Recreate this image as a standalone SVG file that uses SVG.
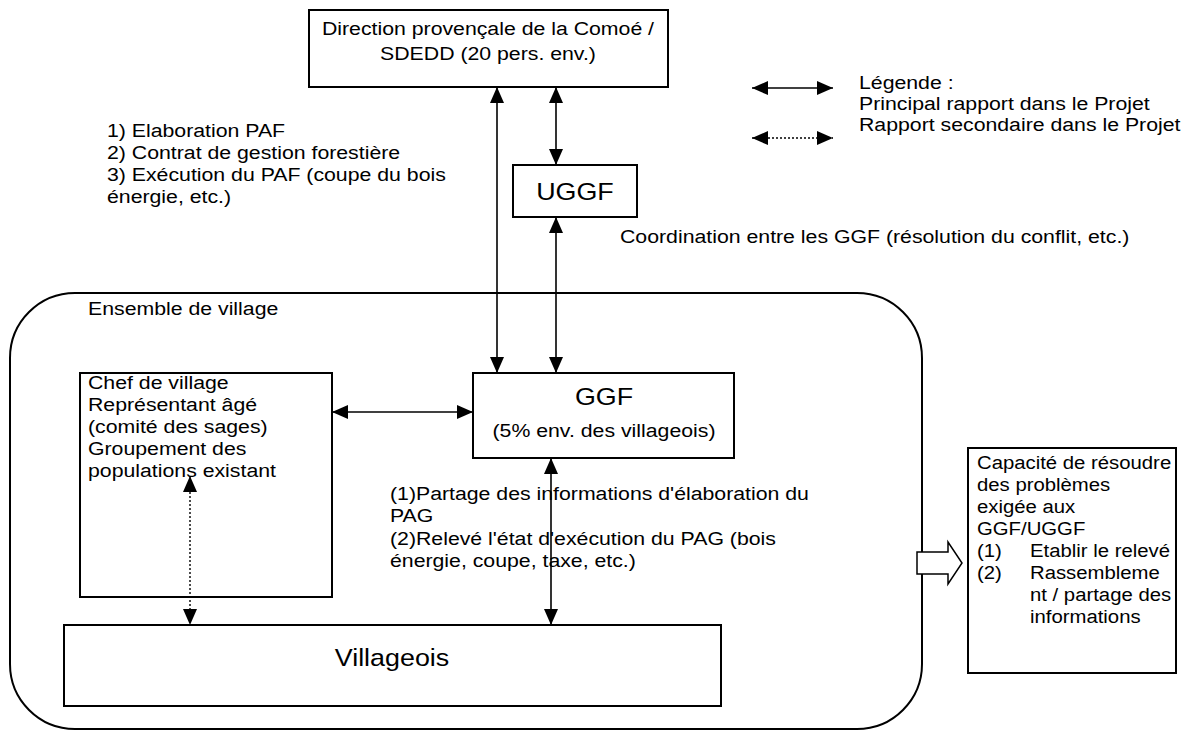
<svg xmlns="http://www.w3.org/2000/svg" width="1186" height="731" viewBox="0 0 1186 731">
<style>
  text { font-family: "Liberation Sans", Arial, sans-serif; font-size: 19px; fill: #000; }
  .s { transform-box: fill-box; transform-origin: 0 50%; transform: scaleX(1.12); }
  .n { transform-box: fill-box; transform-origin: 0 50%; transform: scaleX(1.07); }
  .c { text-anchor: middle; transform-box: fill-box; transform-origin: 50% 50%; transform: scaleX(1.12); }
  .big { font-size: 24px; }
  .box { fill: #fff; stroke: #000; stroke-width: 2; }
  .con { fill: none; stroke: #000; stroke-width: 1.6; }
  .dot { stroke-dasharray: 2 2; stroke-width: 1.4; }
</style>
<defs>
  <marker id="ah" viewBox="0 0 16 14" refX="16" refY="7" markerWidth="16" markerHeight="14" markerUnits="userSpaceOnUse" orient="auto-start-reverse">
    <path d="M0,0 L16,7 L0,14 z" fill="#000"/>
  </marker>
</defs>
<rect width="1186" height="731" fill="#fff"/>

<g id="village">
  <rect x="10" y="293" width="912" height="436" rx="65" ry="65" fill="none" stroke="#000" stroke-width="2"/>
  <text class="s" x="88" y="315">Ensemble de village</text>
</g>

<g id="direction">
  <rect class="box" x="309" y="10" width="359" height="77"/>
  <text class="c" x="488" y="35">Direction provençale de la Comoé /</text>
  <text class="c" x="488" y="60">SDEDD (20 pers. env.)</text>
</g>

<g id="legende">
  <text class="s" x="859" y="89">Légende :</text>
  <text class="s" x="859" y="110">Principal rapport dans le Projet</text>
  <text class="s" x="859" y="131">Rapport secondaire dans le Projet</text>
</g>

<g id="label-paf">
  <text class="s" x="107" y="137">1) Elaboration PAF</text>
  <text class="s" x="107" y="159">2) Contrat de gestion forestière</text>
  <text class="s" x="107" y="181">3) Exécution du PAF (coupe du bois</text>
  <text class="s" x="107" y="203">énergie, etc.)</text>
</g>

<g id="uggf">
  <rect class="box" x="513" y="165" width="124" height="52"/>
  <text class="c big" x="575" y="200">UGGF</text>
</g>

<g id="label-coord">
  <text class="s" x="620" y="243">Coordination entre les GGF (résolution du conflit, etc.)</text>
</g>

<g id="chef">
  <rect class="box" x="80" y="373" width="252" height="224"/>
  <text class="s" x="88" y="389">Chef de village</text>
  <text class="s" x="88" y="411">Représentant âgé</text>
  <text class="s" x="88" y="433">(comité des sages)</text>
  <text class="s" x="88" y="455">Groupement des</text>
  <text class="s" x="88" y="477">populations existant</text>
</g>

<g id="ggf">
  <rect class="box" x="473" y="373" width="261" height="85"/>
  <text class="c big" x="604" y="405">GGF</text>
  <text class="c" x="604" y="437">(5% env. des villageois)</text>
</g>

<g id="label-pag">
  <text class="s" x="390" y="500">(1)Partage des informations d'élaboration du</text>
  <text class="s" x="390" y="522">PAG</text>
  <text class="s" x="390" y="545">(2)Relevé l'état d'exécution du PAG (bois</text>
  <text class="s" x="390" y="567">énergie, coupe, taxe, etc.)</text>
</g>

<g id="villageois">
  <rect class="box" x="64" y="625" width="657" height="81"/>
  <text class="c big" x="392" y="666">Villageois</text>
</g>

<g id="capacite">
  <rect class="box" x="968" y="448" width="208" height="225"/>
  <text class="n" x="977" y="469">Capacité de résoudre</text>
  <text class="n" x="977" y="491">des problèmes</text>
  <text class="n" x="977" y="513">exigée aux</text>
  <text class="n" x="977" y="535">GGF/UGGF</text>
  <text class="n" x="977" y="557">(1)</text>
  <text class="n" x="1030" y="557">Etablir le relevé</text>
  <text class="n" x="977" y="579">(2)</text>
  <text class="n" x="1030" y="579">Rassembleme</text>
  <text class="n" x="1030" y="601">nt / partage des</text>
  <text class="n" x="1030" y="623">informations</text>
</g>

<g id="block-arrow">
  <polygon points="917,552 948,552 948,542 962,563 948,584 948,574 917,574" fill="#fff" stroke="#000" stroke-width="1.5"/>
</g>

<g id="connectors">
  <line class="con" x1="497" y1="87" x2="497" y2="373" marker-start="url(#ah)" marker-end="url(#ah)"/>
  <line class="con" x1="556" y1="87" x2="556" y2="165" marker-start="url(#ah)" marker-end="url(#ah)"/>
  <line class="con" x1="556" y1="217" x2="556" y2="373" marker-start="url(#ah)" marker-end="url(#ah)"/>
  <line class="con" x1="332" y1="412" x2="473" y2="412" marker-start="url(#ah)" marker-end="url(#ah)"/>
  <line class="con" x1="551" y1="458" x2="551" y2="625" marker-start="url(#ah)" marker-end="url(#ah)"/>
  <line class="con dot" x1="190" y1="476" x2="190" y2="625" marker-start="url(#ah)" marker-end="url(#ah)"/>
  <line class="con" x1="752" y1="88" x2="833" y2="88" marker-start="url(#ah)" marker-end="url(#ah)"/>
  <line class="con dot" x1="752" y1="138" x2="833" y2="138" marker-start="url(#ah)" marker-end="url(#ah)"/>
</g>
</svg>
